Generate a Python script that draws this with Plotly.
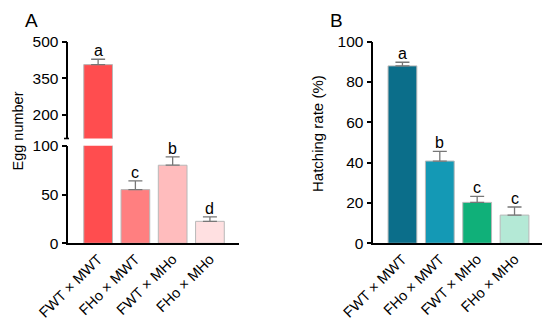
import plotly.graph_objects as go

categories = ["FWT × MWT", "FHo × MWT", "FWT × MHo", "FHo × MHo"]

egg_mean = [406, 55, 80, 22.5]
egg_err = [22, 9, 8.5, 4.5]
egg_letters = ["a", "c", "b", "d"]
egg_colors = ["#FF4D4F", "#FF7F80", "#FFBCBD", "#FFE0E1"]

hatch_mean = [88, 40.8, 20.3, 14]
hatch_err = [1.8, 4.8, 3.0, 4.0]
hatch_letters = ["a", "b", "c", "c"]
hatch_colors = ["#0B6E8A", "#1499B5", "#10B079", "#B4E9D6"]

egg_ticks_low = [0, 50, 100]
egg_ticks_high = [200, 350, 500]
hatch_ticks = [0, 20, 40, 60, 80, 100]

FONT = "Liberation Sans, Arial, sans-serif"
xs = list(range(len(categories)))

# page has an 8px body margin; figure is sized to fit inside the window
OFF = 8
W, H = 550 - OFF, 331 - OFF


def PX(px):
    return (px - OFF) / W


def PY(py):
    return 1 - (py - OFF) / H


fig = go.Figure()

bar_line = dict(color="#B8B8B8", width=1)
err_style = dict(type="data", symmetric=False, color="#777777", thickness=1.3, width=7)

# Panel A lower segment
fig.add_trace(go.Bar(x=xs, y=egg_mean, xaxis="x", yaxis="y", width=0.77,
                     marker=dict(color=egg_colors, line=bar_line),
                     error_y=dict(array=[0] + egg_err[1:], arrayminus=[0, 0, 0, 0], **err_style),
                     showlegend=False))
# Panel A upper segment
fig.add_trace(go.Bar(x=xs, y=egg_mean, xaxis="x", yaxis="y2", width=0.77,
                     marker=dict(color=egg_colors, line=bar_line),
                     error_y=dict(array=[egg_err[0], 0, 0, 0], arrayminus=[0, 0, 0, 0], **err_style),
                     showlegend=False))
# Panel B
fig.add_trace(go.Bar(x=xs, y=hatch_mean, xaxis="x2", yaxis="y3", width=0.77,
                     marker=dict(color=hatch_colors, line=bar_line),
                     error_y=dict(array=hatch_err, arrayminus=[0, 0, 0, 0], **err_style),
                     showlegend=False))

annotations = []
for i in xs:
    yref = "y2" if egg_mean[i] > 100 else "y"
    annotations.append(dict(x=i, y=egg_mean[i] + egg_err[i], xref="x", yref=yref,
                            text=egg_letters[i], showarrow=False, yanchor="bottom", yshift=-2,
                            font=dict(size=16, color="black", family=FONT)))
    annotations.append(dict(x=i, y=hatch_mean[i] + hatch_err[i], xref="x2", yref="y3",
                            text=hatch_letters[i], showarrow=False, yanchor="bottom", yshift=-2,
                            font=dict(size=16, color="black", family=FONT)))

annotations += [
    dict(x=PX(31), y=1, xref="paper", yref="paper", text="A", showarrow=False,
         font=dict(size=19, color="black", family=FONT), xanchor="center", yanchor="top"),
    dict(x=PX(336), y=1, xref="paper", yref="paper", text="B", showarrow=False,
         font=dict(size=19, color="black", family=FONT), xanchor="center", yanchor="top"),
    dict(x=PX(17.5), y=PY(131), xref="paper", yref="paper", text="Egg number",
         xanchor="center", yanchor="middle", borderpad=0,
         textangle=-90, showarrow=False, font=dict(size=14.5, color="black", family=FONT)),
    dict(x=PX(317), y=PY(134), xref="paper", yref="paper", text="Hatching rate (%)",
         xanchor="center", yanchor="middle",
         textangle=-90, showarrow=False, font=dict(size=15, color="black", family=FONT)),
]

common_y = dict(showgrid=False, zeroline=False, showline=True, linecolor="black", linewidth=1.6,
                ticks="outside", ticklen=5, tickwidth=1.6, tickcolor="black", automargin=False,
                tickfont=dict(size=15.5, color="black", family=FONT))
common_x = dict(showgrid=False, zeroline=False, showline=True, linecolor="black", linewidth=1.6,
                ticks="", tickmode="array", tickvals=xs, ticktext=categories, tickangle=-45,
                automargin=False, tickfont=dict(size=14.5, color="black", family=FONT))

fig.update_layout(
    width=W, height=H,
    margin=dict(l=0, r=0, t=0, b=0, autoexpand=False),
    paper_bgcolor="white", plot_bgcolor="white",
    xaxis=dict(domain=[PX(68.3), PX(239)], range=[-0.8, 3.78], anchor="y", **common_x),
    yaxis=dict(domain=[PY(243.3), PY(145.7)], range=[0, 100], anchor="x",
               tickvals=egg_ticks_low, **common_y),
    yaxis2=dict(domain=[PY(138.5), PY(41.7)], range=[103, 500], anchor="x",
                tickvals=egg_ticks_high, **common_y),
    xaxis2=dict(domain=[PX(373.3), PX(543.3)], range=[-0.78, 3.77], anchor="y3", **common_x),
    yaxis3=dict(domain=[PY(243.3), PY(41.7)], range=[0, 100], anchor="x2",
                tickvals=hatch_ticks, **common_y),
    annotations=annotations,
    shapes=[
        dict(type="line", xref="paper", yref="paper", x0=PX(64), x1=PX(69),
             y0=PY(138.5), y1=PY(138.5), line=dict(color="black", width=1.6)),
    ],
)

fig.write_html("out.html")
